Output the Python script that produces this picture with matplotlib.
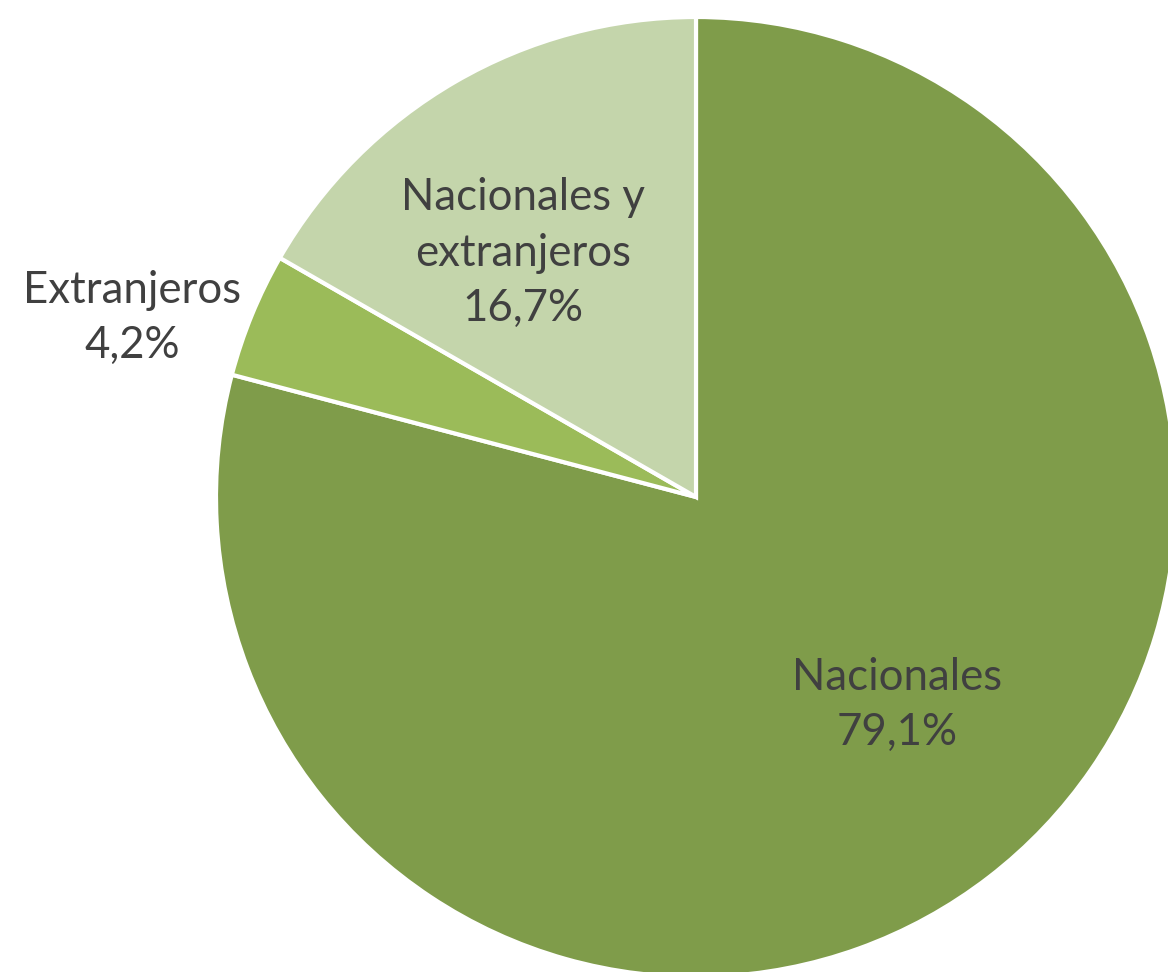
import matplotlib
matplotlib.use("Agg")
import matplotlib.pyplot as plt

categories = ["Nacionales", "Extranjeros", "Nacionales y\nextranjeros"]
values = [79.1, 4.2, 16.7]
pct_labels = ["79,1%", "4,2%", "16,7%"]
colors = ["#7F9C4A", "#9BBB59", "#C4D5AB"]

W, H = 1168, 972
fig = plt.figure(figsize=(W / 100, H / 100), dpi=100)
ax = fig.add_axes([0, 0, 1, 1])

cx, cy, r = 696, H - 497, 480
ax.pie(values, colors=colors, startangle=90, counterclock=False,
       center=(cx, cy), radius=r, frame=True,
       wedgeprops=dict(edgecolor="white", linewidth=3))
ax.set_xlim(0, W)
ax.set_ylim(0, H)
ax.set_aspect("equal")
ax.axis("off")

label_pos = [(897, 705), (132, 318), (523, 253)]
for cat, pct, (x, y) in zip(categories, pct_labels, label_pos):
    ax.text(x, H - y, f"{cat}\n{pct}", ha="center", va="center",
            fontsize=31.5, color="#404040", family=["Lato", "DejaVu Sans"],
            linespacing=1.45)

fig.savefig("out.png", dpi=100)
